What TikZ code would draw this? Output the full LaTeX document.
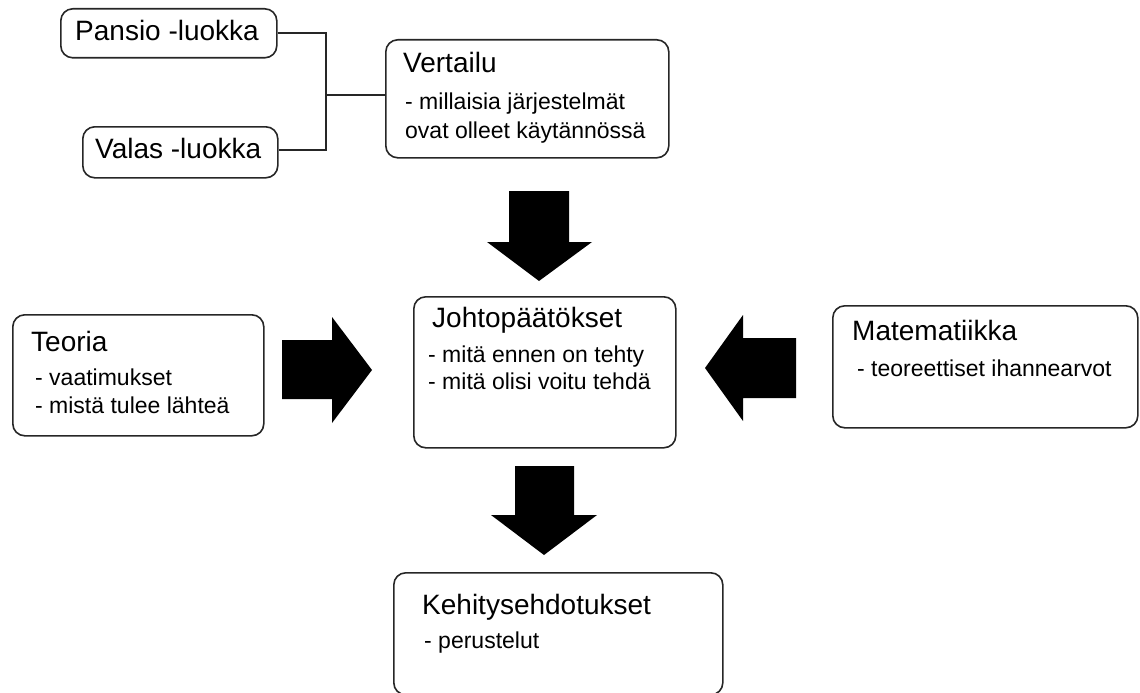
\documentclass[tikz,border=0pt]{standalone}
\usepackage{fontspec}
\setmainfont{Liberation Sans}
\begin{document}
\begin{tikzpicture}[x=1pt,y=-1pt,
  box/.style={draw=black!85, line width=1.6pt, rounded corners=12pt, inner sep=0pt, anchor=north west},
  title/.style={anchor=base west, inner sep=0pt, font=\fontsize{28}{28}\selectfont},
  sub/.style={anchor=base west, inner sep=0pt, font=\fontsize{23}{23}\selectfont},
  link/.style={line width=1.5pt, draw=black!85},
  blockarrow/.style={fill=black}]
\useasboundingbox (0,0) rectangle (1140,693);

% boxes
\node[box, minimum width=216pt, minimum height=49pt]  (pansio) at (60,8) {};
\node[box, minimum width=195pt, minimum height=51pt]  (valas)  at (82,126) {};
\node[box, minimum width=283pt, minimum height=118pt] (vert)   at (385,39) {};
\node[box, minimum width=251pt, minimum height=121pt] (teoria) at (12,314) {};
\node[box, minimum width=262pt, minimum height=151pt] (johto)  at (413,296) {};
\node[box, minimum width=305pt, minimum height=122pt] (mate)   at (832,305) {};
\node[box, minimum width=329pt, minimum height=122pt] (kehi)   at (393,572) {};

% texts
\node[title] (tpansio) at (75,41) {Pansio -luokka};
\node[title] (tvalas)  at (95,158) {Valas -luokka};

\node[title] (tvert) at (403,72) {Vertailu};
\node[sub]   (svert1) at (405,109) {- millaisia järjestelmät};
\node[sub]   (svert2) at (405,138) {ovat olleet käytännössä};

\node[title] (tteoria) at (31,351) {Teoria};
\node[sub]   (steoria1) at (35,385) {- vaatimukset};
\node[sub]   (steoria2) at (35,413) {- mistä tulee lähteä};

\node[title] (tjohto) at (432,327) {Johtopäätökset};
\node[sub]   (sjohto1) at (428,362) {- mitä ennen on tehty};
\node[sub]   (sjohto2) at (428,389) {- mitä olisi voitu tehdä};

\node[title] (tmate) at (852,340) {Matematiikka};
\node[sub]   (smate) at (857,376) {- teoreettiset ihannearvot};

\node[title] (tkehi) at (422,614) {Kehitysehdotukset};
\node[sub]   (skehi) at (424,648) {- perustelut};

% bracket joining the two classes to the comparison
\coordinate (jtop) at (326,33);
\coordinate (jbot) at (326,150);
\coordinate (jmid) at (326,95);
\draw[link] (pansio.east |- jtop) -- (jtop) -- (jbot) -- (valas.east |- jbot);
\draw[link] (jmid) -- (vert.west |- jmid);

% block arrows
\fill[blockarrow] (509,191) -- (569,191) -- (569,242) -- (592,242) -- (539,281) -- (487,242) -- (509,242) -- cycle;
\fill[blockarrow] (515,466) -- (574,466) -- (574,515) -- (597,515) -- (544,555) -- (491,515) -- (515,515) -- cycle;
\fill[blockarrow] (282,340) -- (332,340) -- (332,317) -- (372,370) -- (332,423) -- (332,399) -- (282,399) -- cycle;
\fill[blockarrow] (796,338) -- (743,338) -- (743,315) -- (705,368) -- (743,421) -- (743,398) -- (796,398) -- cycle;
\end{tikzpicture}
\end{document}
